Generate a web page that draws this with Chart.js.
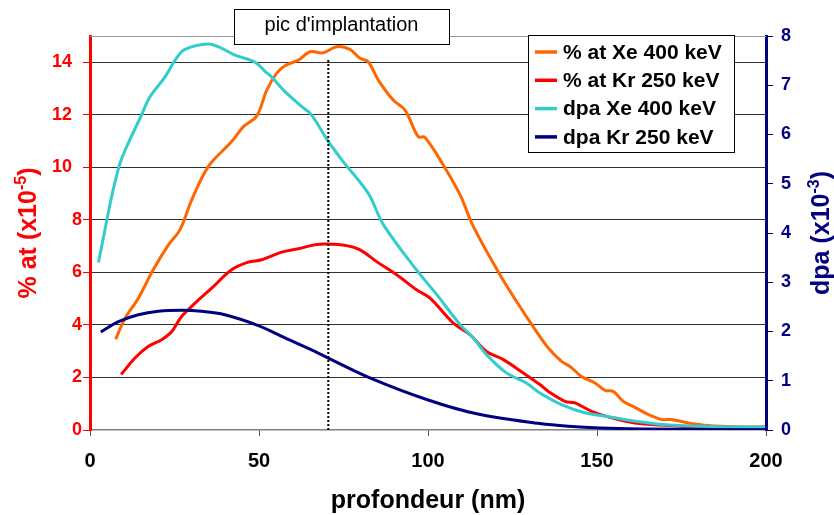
<!DOCTYPE html>
<html><head><meta charset="utf-8">
<script src="https://cdn.jsdelivr.net/npm/chart.js@4.4.0/dist/chart.umd.min.js"></script>
<style>html,body{margin:0;padding:0;background:#fff}#wrap{width:834px;height:515px}</style>
</head><body><div id="wrap"><canvas id="c" width="834" height="515"></canvas></div>
<script>
// ---------- data ----------
const seriesLabels = ['% at Xe 400 keV', '% at Kr 250 keV', 'dpa Xe 400 keV', 'dpa Kr 250 keV'];
const seriesColors = ['#FF6600', '#FF0000', '#33CCCC', '#000080'];

const xeAtDepth  = [7.6,10.4,14.3,18.7,23.2,26.6,30.1,35.0,41.9,45.4,49.3,52.3,55.2,57.7,61.6,65.1,69.0,73.0,76.9,79.9,82.3,85.3,89.7,93.2,97.1,99.1,104.5,109.5,113.4,121.3,126.2,131.7,135.6,139.5,142.0,145.4,149.4,152.4,154.8,157.8,161.2,165.2,169.1,172.0,177.0,182.9,190.8,199.7];
const xeAtValues = [3.46,4.26,5.02,6.10,7.05,7.62,8.76,10.03,10.98,11.55,11.95,12.94,13.58,13.87,14.08,14.40,14.36,14.59,14.49,14.15,14.02,13.32,12.56,12.18,11.17,11.14,10.09,8.95,7.75,5.91,4.89,3.82,3.12,2.61,2.42,2.04,1.79,1.51,1.47,1.09,0.86,0.59,0.40,0.40,0.27,0.17,0.12,0.12];

const krAtDepth  = [9.2,13.3,17.2,21.2,24.2,27.1,31.1,36.0,41.9,46.8,50.8,56.7,61.6,66.6,70.0,75.9,79.9,84.8,90.7,96.6,100.6,107.5,112.4,117.3,122.3,128.2,133.1,135.6,140.5,143.5,148.4,154.3,161.2,171.1,180.0,190.0,199.7];
const krAtValues = [2.11,2.74,3.18,3.44,3.75,4.32,4.83,5.40,6.10,6.39,6.48,6.77,6.90,7.05,7.08,7.02,6.86,6.41,5.91,5.34,5.02,4.07,3.63,2.99,2.68,2.17,1.73,1.47,1.09,1.03,0.71,0.46,0.27,0.17,0.10,0.06,0.05];

const xeDpaDepth  = [2.5,4.4,6.4,8.9,11.3,14.8,17.8,22.2,25.6,28.1,35.0,39.0,42.9,48.8,51.8,53.7,57.7,62.6,65.5,70.5,74.9,82.3,86.8,96.6,102.6,109.5,113.4,117.3,123.2,129.1,133.1,139.5,146.4,154.3,161.2,171.1,181.0,190.8,199.7];
const xeDpaValues = [3.40,4.06,4.74,5.42,5.82,6.33,6.77,7.17,7.55,7.73,7.84,7.75,7.61,7.47,7.28,7.17,6.87,6.57,6.40,5.86,5.45,4.81,4.17,3.25,2.75,2.14,1.87,1.53,1.16,0.955,0.75,0.515,0.35,0.26,0.18,0.10,0.075,0.06,0.06];

const krDpaDepth  = [3.2,8.4,14.3,20.2,27.1,33.0,39.9,49.8,57.7,65.1,70.5,82.8,99.6,114.4,133.1,141.5,151.0,165.0,180.0,200.0];
const krDpaValues = [1.99,2.20,2.34,2.41,2.43,2.41,2.34,2.12,1.87,1.64,1.46,1.06,0.62,0.33,0.13,0.075,0.04,0.02,0.01,0.005];

const xTicks     = [0, 50, 100, 150, 200];
const leftTicks  = [0, 2, 4, 6, 8, 10, 12, 14];
const rightTicks = [0, 1, 2, 3, 4, 5, 6, 7, 8];

const implantDepth = 70.5;
const implantTop   = 14.1;
const annotationText = "pic d'implantation";
const xTitle     = 'profondeur (nm)';
const leftTitle  = ['% at (x10', '-5', ')'];
const rightTitle = ['dpa (x10', '-3', ')'];

// ---------- chart ----------
const FONT = "'Liberation Sans', Arial, sans-serif";
const pts = (xs, ys) => xs.map((x, i) => ({x: x, y: ys[i]}));
const line = (i, xs, ys, axis, order) => ({
  label: seriesLabels[i], data: pts(xs, ys), borderColor: seriesColors[i], backgroundColor: seriesColors[i],
  borderWidth: 3, pointRadius: 0, tension: 0.35, fill: false, yAxisID: axis, order: order
});

function drawSupText(ctx, parts, size) {
  const big = 'bold ' + size + 'px ' + FONT, small = 'bold ' + Math.round(size * 0.62) + 'px ' + FONT;
  ctx.font = big; const w0 = ctx.measureText(parts[0]).width, w2 = ctx.measureText(parts[2]).width;
  ctx.font = small; const w1 = ctx.measureText(parts[1]).width;
  let x = -(w0 + w1 + w2) / 2;
  ctx.textAlign = 'left'; ctx.textBaseline = 'alphabetic';
  const base = size * 0.36;
  ctx.font = big; ctx.fillText(parts[0], x, base); x += w0;
  ctx.font = small; ctx.fillText(parts[1], x, base - size * 0.42); x += w1;
  ctx.font = big; ctx.fillText(parts[2], x, base);
}

const overlay = {
  id: 'overlay',
  beforeDatasetsDraw(chart) {
    const {ctx, chartArea: a} = chart;
    ctx.save(); ctx.strokeStyle = '#9a9a9a'; ctx.lineWidth = 1;
    ctx.beginPath(); ctx.moveTo(a.left, a.top + 0.5); ctx.lineTo(a.right, a.top + 0.5); ctx.stroke();
    ctx.restore();
  },
  afterDraw(chart) {
    const ctx = chart.ctx;
    ctx.save();
    // annotation box
    ctx.fillStyle = '#fff'; ctx.fillRect(234, 9, 215, 35);
    ctx.strokeStyle = '#000'; ctx.lineWidth = 1; ctx.strokeRect(234.5, 9.5, 215, 35);
    ctx.fillStyle = '#000'; ctx.font = '20px ' + FONT; ctx.textAlign = 'center'; ctx.textBaseline = 'middle';
    ctx.fillText(annotationText, 341.5, 25);
    // legend
    ctx.fillStyle = '#fff'; ctx.fillRect(528, 35, 206, 117);
    ctx.strokeStyle = '#000'; ctx.strokeRect(528.5, 35.5, 206, 117);
    ctx.font = 'bold 21px ' + FONT; ctx.textAlign = 'left'; ctx.textBaseline = 'middle';
    seriesLabels.forEach((lab, i) => {
      const y = 52 + i * 28.3;
      ctx.strokeStyle = seriesColors[i]; ctx.lineWidth = 3.5;
      ctx.beginPath(); ctx.moveTo(535, y); ctx.lineTo(557, y); ctx.stroke();
      ctx.fillStyle = '#000'; ctx.fillText(lab, 563, y + 1);
    });
    // x title
    ctx.fillStyle = '#000'; ctx.font = 'bold 25px ' + FONT; ctx.textAlign = 'center'; ctx.textBaseline = 'alphabetic';
    ctx.fillText(xTitle, 428, 508);
    // left title
    ctx.save(); ctx.translate(27, 233); ctx.rotate(-Math.PI / 2); ctx.fillStyle = '#FF0000';
    drawSupText(ctx, leftTitle, 25); ctx.restore();
    // right title
    ctx.save(); ctx.translate(820, 233); ctx.rotate(-Math.PI / 2); ctx.fillStyle = '#000080';
    drawSupText(ctx, rightTitle, 25); ctx.restore();
    ctx.restore();
  }
};

new Chart(document.getElementById('c'), {
  type: 'line',
  data: {
    datasets: [
      line(0, xeAtDepth, xeAtValues, 'yL', 3),
      line(1, krAtDepth, krAtValues, 'yL', 2),
      line(2, xeDpaDepth, xeDpaValues, 'yR', 1),
      line(3, krDpaDepth, krDpaValues, 'yR', 0),
      { label: 'implantation', data: [{x: implantDepth, y: 0}, {x: implantDepth, y: implantTop}],
        borderColor: '#000', borderWidth: 2, borderDash: [2, 2], pointRadius: 0, tension: 0, yAxisID: 'yL', order: -1 }
    ]
  },
  options: {
    responsive: false, animation: false, devicePixelRatio: 1,
    layout: { padding: { top: 36, left: 0, right: 0, bottom: 0 } },
    plugins: { legend: { display: false }, tooltip: { enabled: false } },
    scales: {
      x: {
        type: 'linear', min: 0, max: 200,
        afterBuildTicks: s => { s.ticks = xTicks.map(v => ({value: v})); },
        afterFit: s => { s.height = 85; },
        border: { color: '#808080', width: 1.5 },
        grid: { drawOnChartArea: false, tickColor: '#555', tickLength: 6 },
        ticks: { color: '#000', font: { family: FONT, size: 20, weight: 'bold' }, padding: 13, maxRotation: 0 }
      },
      yL: {
        type: 'linear', position: 'left', min: 0, max: 15,
        afterBuildTicks: s => { s.ticks = leftTicks.map(v => ({value: v})); },
        afterFit: s => { s.width = 90; },
        border: { color: '#FF0000', width: 3 },
        grid: { color: c => (c.tick && c.tick.value === 0) ? 'rgba(0,0,0,0)' : '#303030', lineWidth: 1, tickColor: '#FF0000', tickLength: 7 },
        ticks: { color: '#FF0000', font: { family: FONT, size: 18, weight: 'bold' }, padding: 1,
                 callback: v => v >= 10 ? v + '  ' : String(v) }
      },
      yR: {
        type: 'linear', position: 'right', min: 0, max: 8,
        afterBuildTicks: s => { s.ticks = rightTicks.map(v => ({value: v})); },
        afterFit: s => { s.width = 68; },
        border: { color: '#000080', width: 3 },
        grid: { drawOnChartArea: false, tickColor: '#000080', tickLength: 7 },
        ticks: { color: '#000080', font: { family: FONT, size: 18, weight: 'bold' }, padding: 8 }
      }
    }
  },
  plugins: [overlay]
});
</script></body></html>
